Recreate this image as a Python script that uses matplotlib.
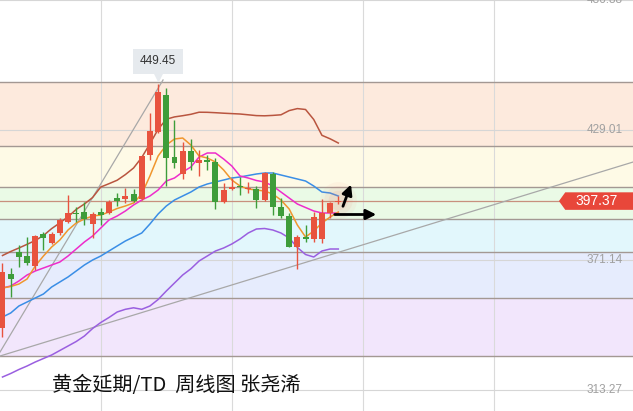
import matplotlib.pyplot as plt
import matplotlib.transforms as mtransforms
from matplotlib.patches import Rectangle, Polygon

plt.rcParams['font.family'] = ['Noto Sans CJK SC', 'DejaVu Sans']

# weekly candles (red = up, green = down)
opens = [340.87, 364.78, 374.84, 372.92, 368.47, 382.72, 378.58, 383.03, 388.19, 392.20,
         392.64, 387.17, 392.64, 391.93, 398.61, 398.16, 400.39, 398.16, 417.88, 428.26,
         444.59, 416.86, 409.43, 419.80, 414.46, 415.66, 414.90, 397.10, 402.62, 404.08,
         402.62, 402.62, 397.85, 409.43, 394.60, 390.73, 377.06, 381.25, 380.36, 380.36,
         392.20, 396.90]
closes = [365.80, 362.55, 372.61, 369.94, 381.83, 380.80, 382.72, 388.95, 392.20, 391.49,
          389.26, 391.62, 391.17, 397.10, 397.54, 399.63, 397.54, 417.44, 428.57, 445.79,
          416.41, 414.46, 419.80, 414.90, 415.66, 414.77, 397.10, 402.30, 403.77, 403.51,
          403.06, 397.85, 409.74, 394.87, 390.73, 377.06, 381.25, 380.62, 390.42, 391.93,
          396.38, 397.37]
highs = [369.81, 367.58, 377.82, 381.38, 382.27, 383.74, 383.74, 389.71, 400.08, 394.74,
         397.10, 392.64, 394.16, 397.85, 401.19, 403.06, 402.62, 417.44, 436.45, 449.45,
         447.57, 433.46, 423.80, 424.87, 420.11, 417.88, 416.41, 405.55, 407.51, 408.22,
         406.00, 404.08, 410.45, 410.45, 398.61, 391.93, 382.27, 386.72, 392.64, 398.16,
         397.10, 399.63]
lows = [336.87, 354.67, 368.16, 368.92, 366.69, 375.59, 378.27, 382.27, 387.75, 388.19,
        386.72, 380.80, 386.72, 391.62, 395.18, 396.65, 397.10, 397.85, 415.66, 427.54,
        404.08, 411.96, 407.20, 411.21, 408.67, 411.21, 393.85, 396.38, 402.30, 400.08,
        400.83, 394.16, 397.54, 391.17, 389.71, 377.06, 367.00, 379.29, 379.29, 378.84,
        389.71, 396.07]

ma5 = [358.68, 359.35, 360.46, 362.69, 368.47, 372.92, 376.93, 380.05, 384.50, 387.61,
       389.39, 390.73, 391.17, 392.51, 394.07, 395.18, 396.52, 400.52, 408.54, 417.44,
       422.33, 425.01, 425.45, 422.33, 417.44, 416.55, 414.77, 411.21, 406.75, 404.08,
       402.75, 402.30, 401.86, 400.52, 397.85, 393.85, 386.72, 381.38, 384.05, 387.61,
       390.28, 392.51]
ma10 = [358.68, 359.57, 361.80, 364.47, 366.25, 367.58, 368.92, 370.25, 372.92, 376.04,
        379.16, 381.83, 385.39, 388.95, 390.73, 392.95, 395.63, 397.85, 399.63, 402.30,
        406.31, 407.65, 410.32, 412.54, 416.99, 418.77, 418.77, 416.10, 412.99, 408.54,
        407.65, 406.53, 405.87, 404.08, 401.41, 398.74, 396.07, 394.51, 392.96, 392.07,
        392.07, 392.07]
boll_mid = [345.77, 347.55, 350.67, 352.45, 354.23, 356.01, 359.12, 361.35, 363.58, 366.25,
            368.92, 371.14, 372.92, 375.15, 377.38, 379.60, 381.38, 383.16, 387.17, 391.62,
            395.18, 397.85, 399.63, 401.41, 403.64, 404.97, 405.87, 406.75, 407.65, 408.09,
            408.76, 409.43, 409.87, 409.87, 408.98, 408.09, 407.20, 406.31, 404.08, 401.41,
            400.97, 399.63]
boll_up = [373.14, 374.93, 376.48, 378.13, 379.82, 382.05, 385.12, 387.66, 390.37, 393.67,
           396.07, 398.96, 403.64, 405.11, 406.66, 409.16, 412.09, 416.77, 422.91, 429.32,
           433.82, 434.84, 435.38, 436.00, 436.93, 436.89, 436.71, 436.49, 436.31, 436.13,
           435.78, 435.42, 435.33, 435.51, 435.78, 437.65, 438.54, 438.14, 433.68, 426.65,
           425.09, 423.22]
boll_low = [319.06, 320.62, 322.40, 323.96, 325.74, 327.30, 328.86, 330.86, 332.86, 334.86,
            337.31, 340.65, 343.32, 345.55, 348.00, 349.20, 349.87, 349.20, 350.67, 353.56,
            357.34, 360.91, 364.47, 367.23, 370.70, 372.92, 375.15, 376.49, 378.27, 380.49,
            383.16, 384.94, 385.17, 384.50, 383.16, 380.94, 376.71, 373.59, 372.48, 375.15,
            376.04, 376.04]

# fibonacci retracement levels (top to bottom) and band colours between them
fib_levels = [450.51, 421.89, 403.77, 389.26, 374.84, 354.23, 328.41]
band_colors = ['#fdeadd', '#fefae6', '#eafae6', '#e2f7fc', '#e6ecfd', '#f2e6fc']

price_ticks = [313.27, 371.14, 429.01, 486.88]
grid_weeks = [12, 28, 44, 60]
last_price = 397.37
peak_label = '449.45'

steep_x, steep_y = [-0.3, 19.6], [330.19, 451.27]
flat_x, flat_y = [-0.3, 77.0], [328.41, 414.77]

title = '黄金延期/TD  周线图 张尧浠'

RED = '#e8533f'
GREEN = '#3e9d3a'

fig = plt.figure(figsize=(6.33, 4.11), dpi=100)
ax = fig.add_axes([0, 0, 1, 1])
ax.set_xlim(-0.305, 76.98)
ax.set_ylim(303.93, 486.88)
ax.axis('off')

# fib bands
for top, bot, col in zip(fib_levels[:-1], fib_levels[1:], band_colors):
    ax.axhspan(bot, top, color=col, lw=0, zorder=0)

# grid
for g in grid_weeks:
    ax.axvline(g, color='#dadada', lw=0.8, zorder=1)
for p in price_ticks:
    ax.axhline(p, color='#d6d6d6', lw=0.8, zorder=1)

for lv in fib_levels:
    ax.axhline(lv, color='#a39893', lw=1.0, zorder=2)

# trend lines
ax.plot(steep_x, steep_y, color='#a8a8a8', lw=0.9, zorder=3)
ax.plot(flat_x, flat_y, color='#a8a8a8', lw=0.9, zorder=3)

# moving averages / bollinger
x = list(range(len(opens)))
ax.plot(x, boll_up, color='#b9553f', lw=1.1, zorder=4)
ax.plot(x, boll_low, color='#9a5fe0', lw=1.1, zorder=4)
ax.plot(x, boll_mid, color='#3a8ee6', lw=1.1, zorder=4)
ax.plot(x, ma10, color='#ee2ccb', lw=1.1, zorder=4)
ax.plot(x, ma5, color='#f0962e', lw=1.1, zorder=4)

# red glow behind last candle
for s, a in [(700, 0.06), (420, 0.08), (200, 0.1)]:
    ax.scatter([41], [398.0], s=s, color='#ee7a6a', alpha=a, lw=0, zorder=4.5)

# candles
w = 0.73
for i in x:
    o, c, h, l = opens[i], closes[i], highs[i], lows[i]
    col = RED if c >= o else GREEN
    ax.vlines(i, l, h, color=col, lw=1.0, zorder=5)
    body = max(abs(c - o), 0.5)
    ax.add_patch(Rectangle((i - w / 2, min(o, c)), w, body, fc=col, ec='none', zorder=5))

# arrows
ax.annotate('', xy=(42.67, 405.9), xytext=(41.45, 393.9),
            arrowprops=dict(arrowstyle='-|>,head_length=0.6,head_width=0.3', color='black', lw=2),
            zorder=6)
ax.annotate('', xy=(45.97, 391.4), xytext=(40.23, 391.4),
            arrowprops=dict(arrowstyle='-|>,head_length=0.6,head_width=0.3', color='black', lw=2),
            zorder=6)

# last price line + tag
blend = mtransforms.blended_transform_factory(ax.transAxes, ax.transData)
ax.axhline(last_price, xmax=0.883, color='#c8907e', lw=0.9, zorder=2)
hh = 3.9
tag = Polygon([(0.883, last_price), (0.893, last_price + hh), (1.0, last_price + hh),
               (1.0, last_price - hh), (0.893, last_price - hh)],
              closed=True, fc='#e8473a', ec='none', transform=blend, zorder=7)
ax.add_patch(tag)
ax.text(0.943, last_price, f'{last_price:.2f}', transform=blend, color='white',
        fontsize=10, ha='center', va='center', family=['Liberation Sans', 'DejaVu Sans'], zorder=8)

# price axis labels
for p in price_ticks:
    ax.text(0.984, p, f'{p:.2f}', transform=blend, color='#a0a0a0', fontsize=8.5,
            ha='right', va='center', family=['Liberation Sans', 'DejaVu Sans'], zorder=8)

# peak label
peak_i = highs.index(max(highs))
off = mtransforms.offset_copy(ax.transData, fig=fig, x=0, y=23, units='dots')
ax.text(peak_i, max(highs), peak_label, transform=off, color='#333333', fontsize=8.5,
        ha='center', va='center', family=['Liberation Sans', 'DejaVu Sans'],
        bbox=dict(boxstyle='square,pad=0.55', fc='#e6eaee', ec='none'), zorder=8)
tri = mtransforms.offset_copy(ax.transData, fig=fig, x=0, y=7, units='dots')
ax.scatter([peak_i], [max(highs)], marker='v', s=30, color='#e6eaee', transform=tri, zorder=8)

ax.text(0.082, 0.063, title, transform=ax.transAxes, fontsize=14.5, color='#111111',
        ha='left', va='center', zorder=8)

fig.savefig('out.png', dpi=100)
